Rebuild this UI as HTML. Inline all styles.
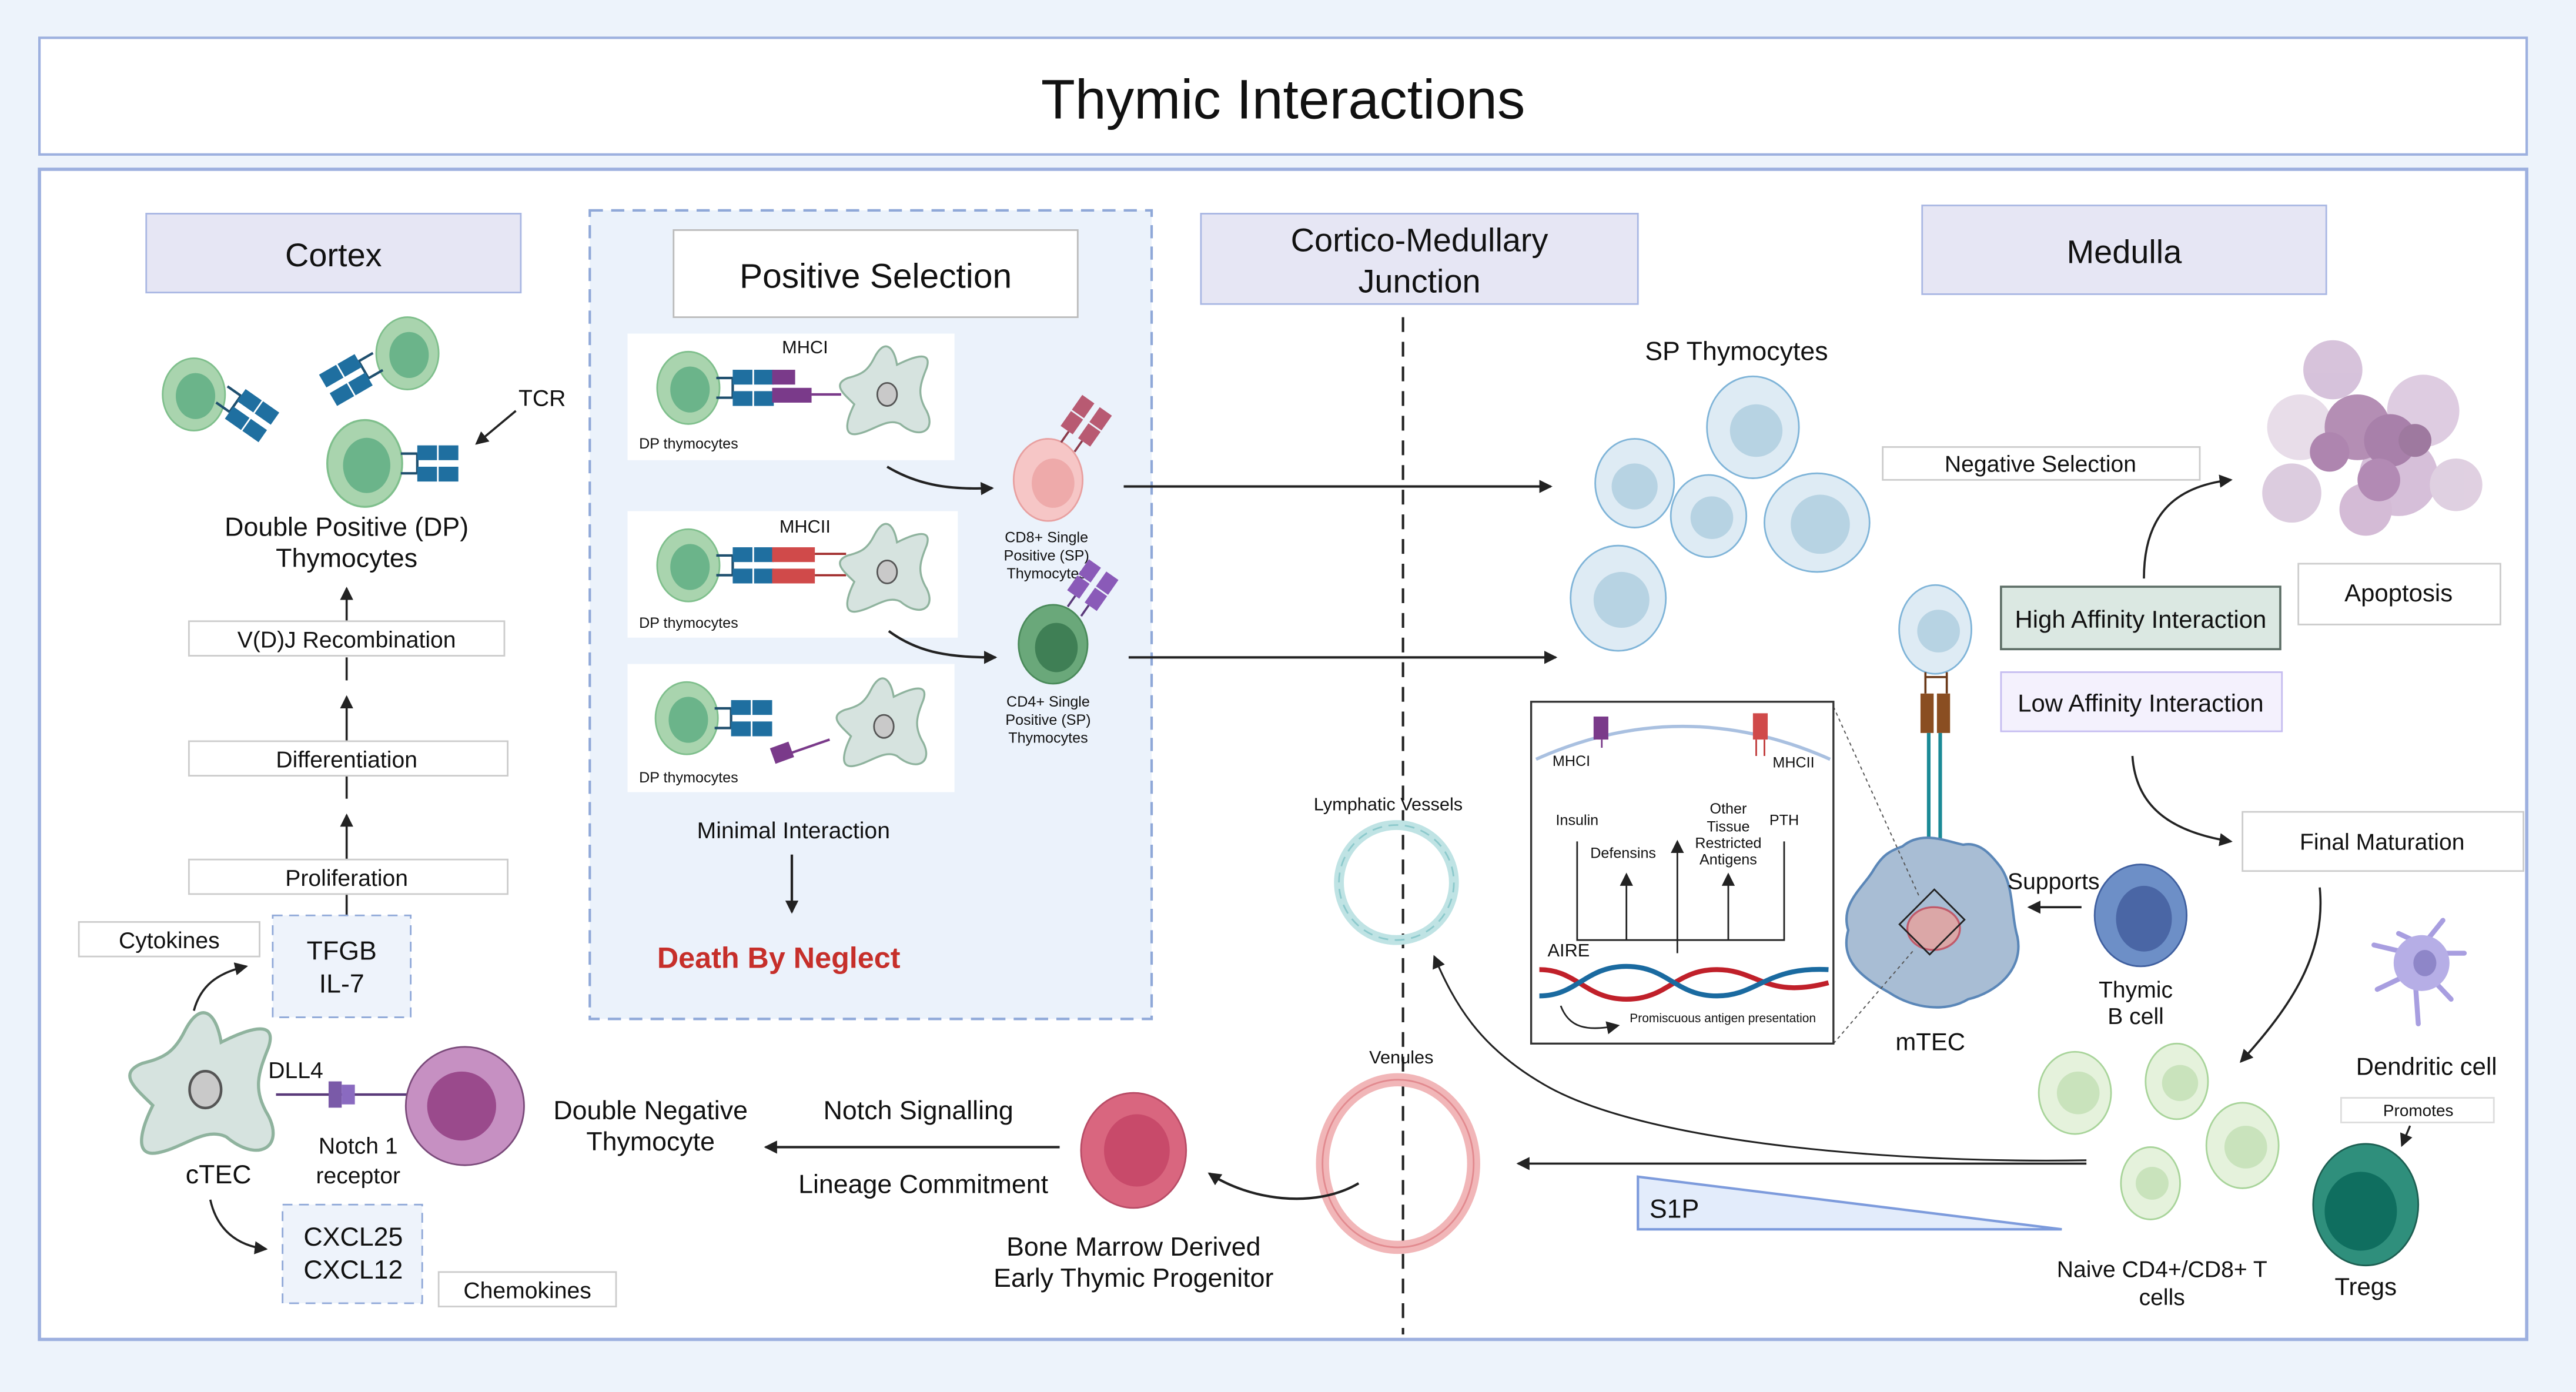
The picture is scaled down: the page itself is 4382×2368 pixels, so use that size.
<!DOCTYPE html>
<html><head><meta charset="utf-8"><style>
html,body{margin:0;padding:0;background:#edf3fb;}
svg{display:block;}
text{font-family:"Liberation Sans",sans-serif;fill:#111;}
</style></head><body>
<svg width="4382" height="2368" viewBox="0 0 1568 847" preserveAspectRatio="none" xmlns="http://www.w3.org/2000/svg">
<defs>
<marker id="ah" markerWidth="8" markerHeight="8" refX="7" refY="4" orient="auto" markerUnits="userSpaceOnUse"><path d="M0,0 L8,4 L0,8 Z" fill="#222"/></marker>
<g id="dp">
<ellipse cx="0" cy="0" rx="19" ry="22" fill="#a9d4ae" stroke="#7fbf8c" stroke-width="1"/>
<ellipse cx="1" cy="1" rx="12" ry="14" fill="#6bb48a"/>
</g>
<g id="tcr">
<path d="M0,-6 H10 M0,6 H10 M10,-6 V6" stroke="#1f4f6e" stroke-width="1.5" fill="none"/>
<rect x="10" y="-11" width="12" height="9" fill="#1f6fa0"/><rect x="23" y="-11" width="12" height="9" fill="#1f6fa0"/>
<rect x="10" y="2" width="12" height="9" fill="#1f6fa0"/><rect x="23" y="2" width="12" height="9" fill="#1f6fa0"/>
</g>
<path id="apc" d="M-8,-22 C-2,-34 4,-30 6,-18 C14,-22 28,-28 24,-16 C20,-6 18,0 24,10 C30,22 20,28 8,18 C0,14 -8,22 -18,24 C-28,26 -24,14 -20,6 C-26,0 -34,-6 -24,-10 C-16,-12 -12,-14 -8,-22 Z" fill="#d6e3df" stroke="#8fb39e" stroke-width="1.2"/>
</defs>
<rect x="0" y="0" width="1568" height="847" fill="#edf3fb"/>
<rect x="24" y="23" width="1514" height="71" fill="#fff" stroke="#9db0df" stroke-width="1.5"/>
<text x="781" y="72" font-size="34" text-anchor="middle">Thymic Interactions</text>
<rect x="24" y="103" width="1514" height="712" fill="#fff" stroke="#9db0df" stroke-width="2"/>

<rect x="89" y="130" width="228" height="48" fill="#e6e6f4" stroke="#a9b7e3"/>
<text x="203" y="162" font-size="20" text-anchor="middle">Cortex</text>
<rect x="359" y="128" width="342" height="492" fill="#ebf2fb" stroke="#8fa8d8" stroke-width="1.5" stroke-dasharray="8,5"/>
<rect x="410" y="140" width="246" height="53" fill="#fff" stroke="#bbb"/>
<text x="533" y="175" font-size="21" text-anchor="middle">Positive Selection</text>
<rect x="731" y="130" width="266" height="55" fill="#e6e6f4" stroke="#a9b7e3"/>
<text x="864" y="153" font-size="20" text-anchor="middle">Cortico-Medullary</text>
<text x="864" y="178" font-size="20" text-anchor="middle">Junction</text>
<rect x="1170" y="125" width="246" height="54" fill="#e6e6f4" stroke="#a9b7e3"/>
<text x="1293" y="160" font-size="20" text-anchor="middle">Medulla</text>
<line x1="854" y1="193" x2="854" y2="812" stroke="#222" stroke-width="1.5" stroke-dasharray="9,6"/>

<use href="#dp" x="118" y="240"/><g transform="translate(135,240) rotate(35)"><use href="#tcr"/></g>
<use href="#dp" x="248" y="215"/><g transform="translate(230,220) rotate(150)"><use href="#tcr"/></g>
<g transform="translate(222,282) scale(1.2)"><use href="#dp"/></g><g transform="translate(244,282)"><use href="#tcr"/></g>
<text x="330" y="247" font-size="14" text-anchor="middle">TCR</text>
<line x1="314" y1="250" x2="290" y2="270" stroke="#222" stroke-width="1.3" marker-end="url(#ah)"/>
<text x="211" y="326" font-size="16" text-anchor="middle">Double Positive (DP)</text>
<text x="211" y="345" font-size="16" text-anchor="middle">Thymocytes</text>
<g stroke="#222" stroke-width="1.3">
<line x1="211" y1="378" x2="211" y2="358" marker-end="url(#ah)"/>
<line x1="211" y1="414" x2="211" y2="400"/><line x1="211" y1="451" x2="211" y2="424" marker-end="url(#ah)"/>
<line x1="211" y1="486" x2="211" y2="472"/><line x1="211" y1="523" x2="211" y2="496" marker-end="url(#ah)"/>
<line x1="211" y1="544" x2="211" y2="558"/>
</g>
<rect x="115" y="378" width="192" height="21" fill="#fff" stroke="#ccc"/><text x="211" y="394" font-size="14" text-anchor="middle">V(D)J Recombination</text>
<rect x="115" y="451" width="194" height="21" fill="#fff" stroke="#ccc"/><text x="211" y="467" font-size="14" text-anchor="middle">Differentiation</text>
<rect x="115" y="523" width="194" height="21" fill="#fff" stroke="#ccc"/><text x="211" y="539" font-size="14" text-anchor="middle">Proliferation</text>
<rect x="166" y="557" width="84" height="62" fill="#eef3fb" stroke="#8fa8d8" stroke-dasharray="6,4"/>
<text x="208" y="584" font-size="16" text-anchor="middle">TFGB</text><text x="208" y="604" font-size="16" text-anchor="middle">IL-7</text>
<rect x="48" y="561" width="110" height="21" fill="#fff" stroke="#ccc"/><text x="103" y="577" font-size="14" text-anchor="middle">Cytokines</text>
<path d="M118,615 C122,600 132,592 150,588" stroke="#222" stroke-width="1.3" fill="none" marker-end="url(#ah)"/>
<g transform="translate(125,663) scale(1.6)"><use href="#apc"/><ellipse cx="0" cy="0" rx="6" ry="7" fill="#c9c9c9" stroke="#555"/></g>
<text x="133" y="720" font-size="16" text-anchor="middle">cTEC</text>
<text x="180" y="656" font-size="14" text-anchor="middle">DLL4</text>
<line x1="168" y1="666" x2="250" y2="666" stroke="#5a3a7a" stroke-width="1.5"/>
<rect x="200" y="658" width="8" height="16" fill="#7a5aa8"/><rect x="208" y="660" width="8" height="12" fill="#8a6ac0"/>
<circle cx="283" cy="673" r="36" fill="#c690c2" stroke="#7a4a7a" stroke-width="1"/>
<circle cx="281" cy="673" r="21" fill="#9a4a8c"/>
<text x="218" y="702" font-size="14" text-anchor="middle">Notch 1</text><text x="218" y="720" font-size="14" text-anchor="middle">receptor</text>
<path d="M128,730 C132,748 144,758 162,760" stroke="#222" stroke-width="1.3" fill="none" marker-end="url(#ah)"/>
<rect x="172" y="733" width="85" height="60" fill="#eef3fb" stroke="#8fa8d8" stroke-dasharray="6,4"/>
<text x="215" y="758" font-size="16" text-anchor="middle">CXCL25</text><text x="215" y="778" font-size="16" text-anchor="middle">CXCL12</text>
<rect x="267" y="774" width="108" height="21" fill="#fff" stroke="#ccc"/><text x="321" y="790" font-size="14" text-anchor="middle">Chemokines</text>
<text x="396" y="681" font-size="16" text-anchor="middle">Double Negative</text><text x="396" y="700" font-size="16" text-anchor="middle">Thymocyte</text>

<rect x="382" y="203" width="199" height="77" fill="#fff"/>
<rect x="382" y="311" width="201" height="77" fill="#fff"/>
<rect x="382" y="404" width="199" height="78" fill="#fff"/>
<use href="#dp" x="419" y="236"/><g transform="translate(436,236)"><use href="#tcr"/></g>
<rect x="470" y="225" width="14" height="9" fill="#7a3a8a"/><rect x="470" y="236" width="24" height="9" fill="#7a3a8a"/><line x1="494" y1="240" x2="512" y2="240" stroke="#7a3a8a" stroke-width="1.5"/>
<g transform="translate(540,240)"><use href="#apc"/><ellipse cx="0" cy="0" rx="6" ry="7" fill="#c9c9c9" stroke="#555"/></g>
<text x="490" y="215" font-size="11" text-anchor="middle">MHCI</text>
<text x="389" y="273" font-size="9">DP thymocytes</text>
<use href="#dp" x="419" y="344"/><g transform="translate(436,344)"><use href="#tcr"/></g>
<rect x="470" y="333" width="26" height="9" fill="#d04a4a"/><rect x="470" y="346" width="26" height="9" fill="#d04a4a"/><path d="M496,337 H515 M496,350 H515" stroke="#a02a2a" stroke-width="1.3"/>
<g transform="translate(540,348)"><use href="#apc"/><ellipse cx="0" cy="0" rx="6" ry="7" fill="#c9c9c9" stroke="#555"/></g>
<text x="490" y="324" font-size="11" text-anchor="middle">MHCII</text>
<text x="389" y="382" font-size="9">DP thymocytes</text>
<use href="#dp" x="418" y="437"/><g transform="translate(435,437)"><use href="#tcr"/></g>
<rect x="470" y="453" width="12" height="10" fill="#7a3a8a" transform="rotate(-20 476 458)"/><line x1="482" y1="458" x2="505" y2="450" stroke="#7a3a8a" stroke-width="1.5"/>
<g transform="translate(538,442)"><use href="#apc"/><ellipse cx="0" cy="0" rx="6" ry="7" fill="#c9c9c9" stroke="#555"/></g>
<text x="389" y="476" font-size="9">DP thymocytes</text>
<path d="M540,284 C560,296 580,298 604,297" stroke="#222" stroke-width="1.5" fill="none" marker-end="url(#ah)"/>
<path d="M541,384 C560,398 580,400 606,400" stroke="#222" stroke-width="1.5" fill="none" marker-end="url(#ah)"/>
<ellipse cx="638" cy="292" rx="21" ry="25" fill="#f6c6c6" stroke="#e8a0a0"/><ellipse cx="641" cy="294" rx="13" ry="15" fill="#eeaaaa"/>
<g transform="translate(650,272) rotate(-55)"><path d="M0,-5 H8 M0,5 H8" stroke="#8a3a4a" stroke-width="1.3"/><rect x="8" y="-11" width="11" height="9" fill="#b85a72"/><rect x="20" y="-11" width="11" height="9" fill="#b85a72"/><rect x="8" y="2" width="11" height="9" fill="#b85a72"/><rect x="20" y="2" width="11" height="9" fill="#b85a72"/></g>
<text x="637" y="330" font-size="9" text-anchor="middle">CD8+ Single</text><text x="637" y="341" font-size="9" text-anchor="middle">Positive (SP)</text><text x="637" y="352" font-size="9" text-anchor="middle">Thymocytes</text>
<ellipse cx="641" cy="392" rx="21" ry="24" fill="#6aa87a" stroke="#4a8a5a"/><ellipse cx="643" cy="394" rx="13" ry="15" fill="#3f7f55"/>
<g transform="translate(654,372) rotate(-55)"><path d="M0,-5 H8 M0,5 H8" stroke="#5a3a7a" stroke-width="1.3"/><rect x="8" y="-11" width="11" height="9" fill="#8a5ab8"/><rect x="20" y="-11" width="11" height="9" fill="#8a5ab8"/><rect x="8" y="2" width="11" height="9" fill="#8a5ab8"/><rect x="20" y="2" width="11" height="9" fill="#8a5ab8"/></g>
<text x="638" y="430" font-size="9" text-anchor="middle">CD4+ Single</text><text x="638" y="441" font-size="9" text-anchor="middle">Positive (SP)</text><text x="638" y="452" font-size="9" text-anchor="middle">Thymocytes</text>
<text x="483" y="510" font-size="14" text-anchor="middle">Minimal Interaction</text>
<line x1="482" y1="520" x2="482" y2="555" stroke="#222" stroke-width="1.5" marker-end="url(#ah)"/>
<text x="474" y="589" font-size="18" font-weight="bold" text-anchor="middle" style="fill:#c62f2a">Death By Neglect</text>
<line x1="684" y1="296" x2="944" y2="296" stroke="#222" stroke-width="1.5" marker-end="url(#ah)"/>
<line x1="687" y1="400" x2="947" y2="400" stroke="#222" stroke-width="1.5" marker-end="url(#ah)"/>

<text x="1057" y="219" font-size="16" text-anchor="middle">SP Thymocytes</text>
<g fill="#deebf4" stroke="#7fb4d8" stroke-width="1">
<ellipse cx="1067" cy="260" rx="28" ry="31"/><ellipse cx="995" cy="294" rx="24" ry="27"/><ellipse cx="1040" cy="314" rx="23" ry="25"/><ellipse cx="1106" cy="318" rx="32" ry="30"/><ellipse cx="985" cy="364" rx="29" ry="32"/><ellipse cx="1178" cy="383" rx="22" ry="27"/>
</g>
<g fill="#b7d3e3"><circle cx="1069" cy="262" r="16"/><circle cx="995" cy="296" r="14"/><circle cx="1042" cy="315" r="13"/><circle cx="1108" cy="319" r="18"/><circle cx="987" cy="365" r="17"/><circle cx="1180" cy="384" r="13"/></g>
<rect x="1146" y="272" width="193" height="20" fill="#fff" stroke="#ccc"/><text x="1242" y="287" font-size="14" text-anchor="middle">Negative Selection</text>
<g opacity="0.85">
<circle cx="1400" cy="260" r="20" fill="#e4d8e6"/><circle cx="1475" cy="250" r="22" fill="#d9c4dc"/><circle cx="1420" cy="225" r="18" fill="#d0b8d5"/><circle cx="1460" cy="290" r="24" fill="#cfb5d3"/><circle cx="1395" cy="300" r="18" fill="#d7c4da"/><circle cx="1495" cy="295" r="16" fill="#dac8dc"/><circle cx="1440" cy="310" r="16" fill="#cdb0d0"/>
<circle cx="1435" cy="260" r="20" fill="#a77ba8"/><circle cx="1455" cy="268" r="16" fill="#9a6a9c"/><circle cx="1418" cy="275" r="12" fill="#a070a2"/><circle cx="1448" cy="292" r="13" fill="#a576a7"/><circle cx="1470" cy="268" r="10" fill="#8e628f"/>
</g>
<rect x="1399" y="343" width="123" height="37" fill="#fff" stroke="#ccc"/><text x="1460" y="366" font-size="15" text-anchor="middle">Apoptosis</text>
<path d="M1305,352 C1305,315 1322,296 1358,292" stroke="#222" stroke-width="1.3" fill="none" marker-end="url(#ah)"/>
<rect x="1218" y="357" width="170" height="38" fill="#dbe8e2" stroke="#5d6e66" stroke-width="1.3"/><text x="1303" y="382" font-size="15" text-anchor="middle">High Affinity Interaction</text>
<rect x="1218" y="409" width="171" height="36" fill="#f4f1fd" stroke="#c5bcf0"/><text x="1303" y="433" font-size="15" text-anchor="middle">Low Affinity Interaction</text>
<path d="M1298,460 C1300,490 1320,506 1358,512" stroke="#222" stroke-width="1.3" fill="none" marker-end="url(#ah)"/>
<rect x="1365" y="494" width="171" height="36" fill="#fff" stroke="#ccc"/><text x="1450" y="517" font-size="14" text-anchor="middle">Final Maturation</text>
<path d="M1412,540 C1416,580 1395,612 1364,646" stroke="#222" stroke-width="1.3" fill="none" marker-end="url(#ah)"/>

<path d="M1172,409 V422 M1185,409 V422 M1172,412 H1185" stroke="#6b3a1a" stroke-width="1.3"/>
<rect x="1169" y="422" width="8" height="24" fill="#8a4e22"/><rect x="1179" y="422" width="8" height="24" fill="#8a4e22"/>
<path d="M1174,446 V513 M1181,446 V513" stroke="#1b8a96" stroke-width="2.2"/>
<path d="M1158,515 C1170,505 1185,512 1195,514 C1205,512 1212,520 1218,528 C1226,540 1224,556 1228,570 C1232,590 1215,604 1198,608 C1185,616 1165,614 1150,604 C1132,594 1120,584 1125,566 C1120,550 1134,540 1140,530 C1146,520 1150,518 1158,515 Z" fill="#a8bdd4" stroke="#5b87b8" stroke-width="1.5"/>
<ellipse cx="1177" cy="565" rx="16" ry="13" fill="#dba7a7" stroke="#c05a6a" stroke-width="1.2"/>
<rect x="1163" y="546" width="26" height="30" fill="none" stroke="#222" transform="rotate(45 1176 561)"/>
<text x="1175" y="639" font-size="15" text-anchor="middle">mTEC</text>
<path d="M1116,430 L1168,545 M1116,635 L1165,578" stroke="#555" stroke-width="0.7" stroke-dasharray="2,2"/>
<text x="1250" y="541" font-size="14" text-anchor="middle">Supports</text>
<line x1="1267" y1="552" x2="1235" y2="552" stroke="#222" stroke-width="1.3" marker-end="url(#ah)"/>
<ellipse cx="1303" cy="557" rx="28" ry="31" fill="#6d8fc7" stroke="#3f5f9f"/><ellipse cx="1305" cy="559" rx="17" ry="20" fill="#4a66a5"/>
<text x="1300" y="607" font-size="14" text-anchor="middle">Thymic</text><text x="1300" y="623" font-size="14" text-anchor="middle">B cell</text>

<rect x="932" y="427" width="184" height="208" fill="#fff" stroke="#333" stroke-width="1.2"/>
<path d="M935,462 Q1024,422 1114,462" stroke="#a9c0e0" stroke-width="2" fill="none"/>
<rect x="970" y="436" width="9" height="14" fill="#7a3a8a"/><line x1="975" y1="450" x2="975" y2="455" stroke="#7a3a8a"/>
<rect x="1067" y="434" width="9" height="16" fill="#d04a4a"/><path d="M1069,450 V460 M1074,450 V460" stroke="#c03a3a"/>
<text x="945" y="466" font-size="9">MHCI</text><text x="1079" y="467" font-size="9">MHCII</text>
<text x="960" y="502" font-size="9" text-anchor="middle">Insulin</text>
<text x="988" y="522" font-size="9" text-anchor="middle">Defensins</text>
<text x="1052" y="495" font-size="9" text-anchor="middle">Other</text><text x="1052" y="506" font-size="9" text-anchor="middle">Tissue</text><text x="1052" y="516" font-size="9" text-anchor="middle">Restricted</text><text x="1052" y="526" font-size="9" text-anchor="middle">Antigens</text>
<text x="1086" y="502" font-size="9" text-anchor="middle">PTH</text>
<g stroke="#222" stroke-width="1" fill="none">
<path d="M960,512 V572 H1086 V512"/>
<line x1="990" y1="572" x2="990" y2="532" marker-end="url(#ah)"/>
<line x1="1021" y1="580" x2="1021" y2="512" marker-end="url(#ah)"/>
<line x1="1052" y1="572" x2="1052" y2="532" marker-end="url(#ah)"/>
<path d="M950,612 C955,625 965,628 985,624" marker-end="url(#ah)"/>
</g>
<text x="942" y="582" font-size="11">AIRE</text>
<path d="M937,590 C960,590 965,608 990,608 C1015,608 1020,590 1045,590 C1070,590 1075,608 1113,598" stroke="#c0202a" stroke-width="3" fill="none"/>
<path d="M937,606 C960,606 965,588 990,588 C1015,588 1020,606 1045,606 C1070,606 1075,588 1113,590" stroke="#1a6aa0" stroke-width="3" fill="none"/>
<text x="992" y="622" font-size="7.5">Promiscuous antigen presentation</text>

<text x="845" y="493" font-size="11" text-anchor="middle">Lymphatic Vessels</text>
<circle cx="850" cy="537" r="35" fill="none" stroke="#bfe3e4" stroke-width="6"/><circle cx="850" cy="537" r="35" fill="none" stroke="#8cc9cc" stroke-width="1" stroke-dasharray="6,4"/>
<text x="853" y="647" font-size="11" text-anchor="middle">Venules</text>
<ellipse cx="851" cy="708" rx="46" ry="51" fill="none" stroke="#f1b6b8" stroke-width="8"/><ellipse cx="851" cy="708" rx="46" ry="51" fill="none" stroke="#e28a8f" stroke-width="1"/>
<path d="M1270,706 C1150,708 1000,695 940,660 C900,637 885,610 873,582" stroke="#222" stroke-width="1.1" fill="none" marker-end="url(#ah)"/>
<line x1="1270" y1="708" x2="924" y2="708" stroke="#222" stroke-width="1.3" marker-end="url(#ah)"/>
<polygon points="997,716 997,748 1255,748" fill="#e3ecfb" stroke="#7d9bdc" stroke-width="1.5"/>
<text x="1004" y="741" font-size="16">S1P</text>
<path d="M827,720 C800,736 760,730 736,714" stroke="#222" stroke-width="1.5" fill="none" marker-end="url(#ah)"/>
<ellipse cx="690" cy="700" rx="32" ry="35" fill="#d9667f" stroke="#b84c66"/><ellipse cx="692" cy="700" rx="20" ry="22" fill="#c84a6a"/>
<text x="690" y="764" font-size="16" text-anchor="middle">Bone Marrow Derived</text><text x="690" y="783" font-size="16" text-anchor="middle">Early Thymic Progenitor</text>
<line x1="645" y1="698" x2="466" y2="698" stroke="#222" stroke-width="1.5" marker-end="url(#ah)"/>
<text x="559" y="681" font-size="16" text-anchor="middle">Notch Signalling</text>
<text x="562" y="726" font-size="16" text-anchor="middle">Lineage Commitment</text>

<g fill="#e5f2dc" stroke="#a8d49a"><ellipse cx="1263" cy="665" rx="22" ry="25"/><ellipse cx="1325" cy="658" rx="19" ry="23"/><ellipse cx="1365" cy="697" rx="22" ry="26"/><ellipse cx="1309" cy="720" rx="18" ry="22"/></g>
<g fill="#c9e3bc"><circle cx="1265" cy="665" r="13"/><circle cx="1327" cy="659" r="11"/><circle cx="1367" cy="698" r="13"/><circle cx="1310" cy="720" r="10"/></g>
<text x="1316" y="777" font-size="14" text-anchor="middle">Naive CD4+/CD8+ T</text><text x="1316" y="794" font-size="14" text-anchor="middle">cells</text>
<g fill="#b6aee6" stroke="#a89ee0" stroke-width="3" stroke-linecap="round">
<path d="M1475,575 L1487,560 M1475,575 L1460,568 M1475,580 L1500,580 M1475,590 L1492,608 M1470,595 L1472,623 M1468,592 L1447,602 M1466,580 L1445,575"/>
<circle cx="1474" cy="586" r="17" stroke="none"/>
</g>
<ellipse cx="1476" cy="586" rx="7" ry="8" fill="#8e86c8"/>
<text x="1477" y="654" font-size="15" text-anchor="middle">Dendritic cell</text>
<rect x="1425" y="668" width="93" height="15" fill="#fff" stroke="#ddd"/><text x="1472" y="679" font-size="10" text-anchor="middle">Promotes</text>
<line x1="1467" y1="685" x2="1462" y2="697" stroke="#222" stroke-width="1.2" marker-end="url(#ah)"/>
<ellipse cx="1440" cy="733" rx="32" ry="37" fill="#2f8f7c" stroke="#1d5f52"/><ellipse cx="1437" cy="737" rx="22" ry="24" fill="#0f6e5f"/>
<text x="1440" y="788" font-size="15" text-anchor="middle">Tregs</text>
</svg>
</body></html>
